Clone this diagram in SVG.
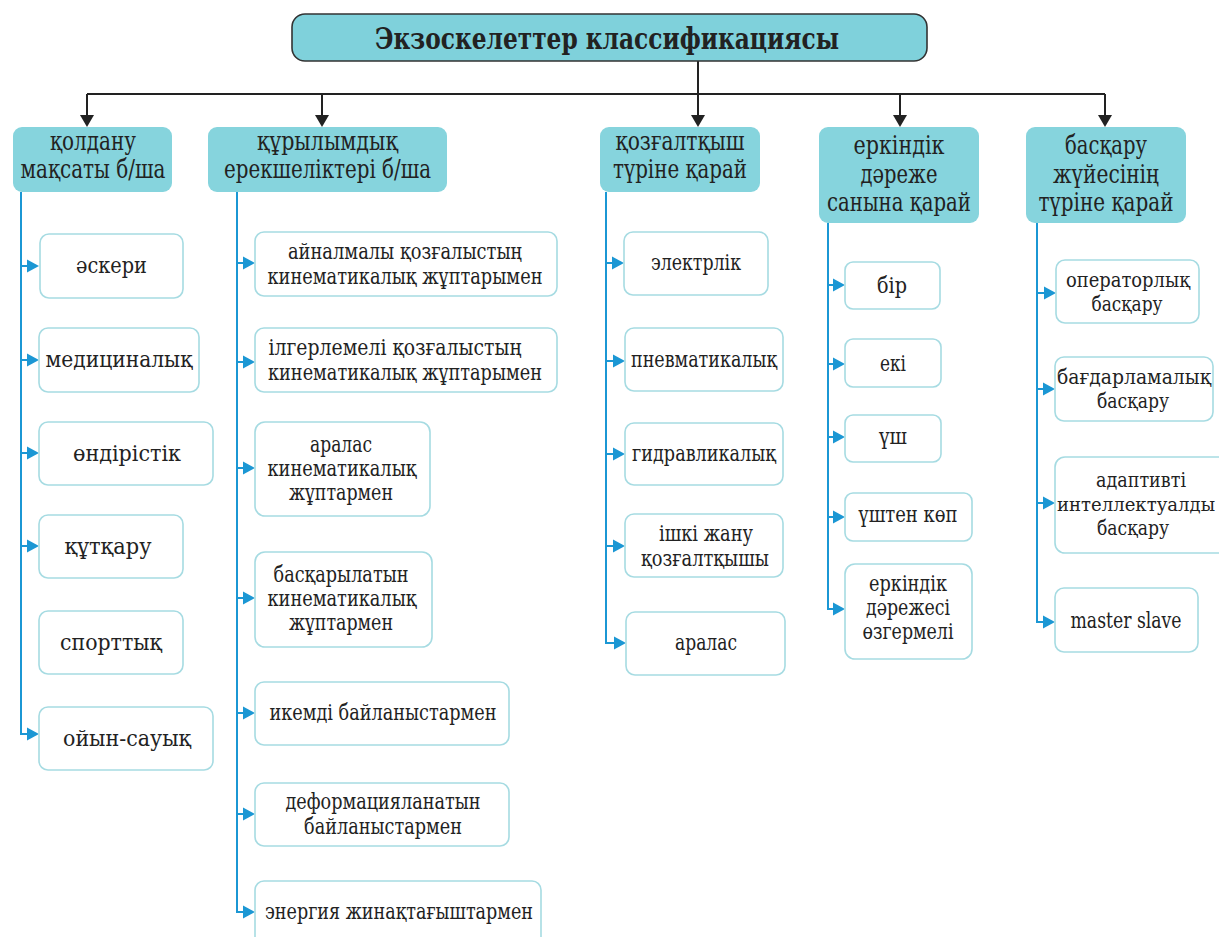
<svg xmlns="http://www.w3.org/2000/svg" width="1219" height="937" viewBox="0 0 1219 937">
<style>
.title{fill:#7fd1db;stroke:#333;stroke-width:1.6}
.hdr{fill:#86d4dd}
.box{fill:#fff;stroke:#a6dbe2;stroke-width:1.6}
text{font-family:"DejaVu Serif","Liberation Serif",serif;fill:#222;text-anchor:middle}
.tt{font-size:29px;font-weight:bold}
.ht{font-size:26px}
.bt{font-size:23px}
.bs{font-size:20px}
.blk{stroke:#222;stroke-width:2;fill:none}
.blu{stroke:#1b97d4;stroke-width:2;fill:none}
.ta{fill:#1b97d4}
.tb{fill:#222}
</style>
<defs>
<path id="arB" d="M-7,-12 L7,-12 L0,0 Z"/>
<path id="arC" d="M-12,-6.5 L0,0 L-12,6.5 Z"/>
</defs>
<rect width="1219" height="937" fill="#fff"/>

<g id="connectors">
<path class="blk" d="M698,61 V94"/>
<path class="blk" d="M87,94 H1105"/>
<path class="blk" d="M87,94 V116 M322,94 V116 M698,94 V116 M900,94 V116 M1105,94 V116"/>
<use href="#arB" class="tb" x="87" y="127"/>
<use href="#arB" class="tb" x="322" y="127"/>
<use href="#arB" class="tb" x="698" y="127"/>
<use href="#arB" class="tb" x="900" y="127"/>
<use href="#arB" class="tb" x="1105" y="127"/>

<path class="blu" d="M21,192 V734 H28 M20,266 H28 M20,360 H28 M20,453 H28 M20,546 H28"/>
<use href="#arC" class="ta" x="39" y="266"/>
<use href="#arC" class="ta" x="39" y="360"/>
<use href="#arC" class="ta" x="39" y="453"/>
<use href="#arC" class="ta" x="39" y="546"/>
<use href="#arC" class="ta" x="39" y="734"/>

<path class="blu" d="M237,192 V912 H244 M236,263 H244 M236,362 H244 M236,468 H244 M236,598 H244 M236,713 H244 M236,814 H244"/>
<use href="#arC" class="ta" x="255" y="263"/>
<use href="#arC" class="ta" x="255" y="362"/>
<use href="#arC" class="ta" x="255" y="468"/>
<use href="#arC" class="ta" x="255" y="598"/>
<use href="#arC" class="ta" x="255" y="713"/>
<use href="#arC" class="ta" x="255" y="814"/>
<use href="#arC" class="ta" x="255" y="912"/>

<path class="blu" d="M606,192 V643 H614 M605,263 H614 M605,361 H614 M605,454 H614 M605,546 H614"/>
<use href="#arC" class="ta" x="624" y="263"/>
<use href="#arC" class="ta" x="625" y="361"/>
<use href="#arC" class="ta" x="625" y="454"/>
<use href="#arC" class="ta" x="625" y="546"/>
<use href="#arC" class="ta" x="626" y="643"/>

<path class="blu" d="M828,223 V609 H835 M827,285 H835 M827,364 H835 M827,437 H835 M827,517 H835"/>
<use href="#arC" class="ta" x="845" y="285"/>
<use href="#arC" class="ta" x="845" y="364"/>
<use href="#arC" class="ta" x="845" y="437"/>
<use href="#arC" class="ta" x="845" y="517"/>
<use href="#arC" class="ta" x="845" y="609"/>

<path class="blu" d="M1037,223 V622 H1045 M1036,293 H1045 M1036,389 H1045 M1036,503 H1045"/>
<use href="#arC" class="ta" x="1056" y="293"/>
<use href="#arC" class="ta" x="1055" y="389"/>
<use href="#arC" class="ta" x="1055" y="503"/>
<use href="#arC" class="ta" x="1055" y="622"/>
</g>

<g id="title">
<rect class="title" x="292" y="14" width="635" height="47" rx="13"/>
<text class="tt" x="607" y="49" textLength="464" lengthAdjust="spacingAndGlyphs">Экзоскелеттер классификациясы</text>
</g>

<g id="h1"><rect class="hdr" x="13" y="127" width="159" height="65" rx="9"/>
<text class="ht" x="93" y="150" textLength="86" lengthAdjust="spacingAndGlyphs">қолдану</text><text class="ht" x="93" y="178" textLength="145" lengthAdjust="spacingAndGlyphs">мақсаты б/ша</text></g>
<g id="h2"><rect class="hdr" x="208" y="127" width="239" height="65" rx="9"/>
<text class="ht" x="327.5" y="150" textLength="141" lengthAdjust="spacingAndGlyphs">құрылымдық</text><text class="ht" x="327.5" y="178" textLength="207" lengthAdjust="spacingAndGlyphs">ерекшеліктері б/ша</text></g>
<g id="h3"><rect class="hdr" x="600" y="127" width="160" height="65" rx="9"/>
<text class="ht" x="680" y="150" textLength="129" lengthAdjust="spacingAndGlyphs">қозғалтқыш</text><text class="ht" x="680" y="178" textLength="134" lengthAdjust="spacingAndGlyphs">түріне қарай</text></g>
<g id="h4"><rect class="hdr" x="819" y="127" width="160" height="96" rx="9"/>
<text class="ht" x="899" y="154" textLength="91" lengthAdjust="spacingAndGlyphs">еркіндік</text><text class="ht" x="899" y="183" textLength="77" lengthAdjust="spacingAndGlyphs">дәреже</text><text class="ht" x="899" y="211" textLength="144" lengthAdjust="spacingAndGlyphs">санына қарай</text></g>
<g id="h5"><rect class="hdr" x="1026" y="127" width="160" height="96" rx="9"/>
<text class="ht" x="1106" y="154" textLength="82" lengthAdjust="spacingAndGlyphs">басқару</text><text class="ht" x="1106" y="183" textLength="106" lengthAdjust="spacingAndGlyphs">жүйесінің</text><text class="ht" x="1106" y="211" textLength="135" lengthAdjust="spacingAndGlyphs">түріне қарай</text></g>

<g id="c1n1"><rect class="box" x="40" y="234" width="143" height="64" rx="9"/><text class="bt" x="111.5" y="273" textLength="71" lengthAdjust="spacingAndGlyphs">әскери</text></g>
<g id="c1n2"><rect class="box" x="39" y="328" width="160" height="64" rx="9"/><text class="bt" x="119" y="367" textLength="147" lengthAdjust="spacingAndGlyphs">медициналық</text></g>
<g id="c1n3"><rect class="box" x="39" y="422" width="174" height="63" rx="9"/><text class="bt" x="127" y="461" textLength="108" lengthAdjust="spacingAndGlyphs">өндірістік</text></g>
<g id="c1n4"><rect class="box" x="39" y="515" width="144" height="63" rx="9"/><text class="bt" x="108" y="554" textLength="87" lengthAdjust="spacingAndGlyphs">құтқару</text></g>
<g id="c1n5"><rect class="box" x="39" y="611" width="144" height="63" rx="9"/><text class="bt" x="111" y="650" textLength="102" lengthAdjust="spacingAndGlyphs">спорттық</text></g>
<g id="c1n6"><rect class="box" x="39" y="707" width="174" height="63" rx="9"/><text class="bt" x="127" y="746" textLength="128" lengthAdjust="spacingAndGlyphs">ойын-сауық</text></g>

<g id="c2n1"><rect class="box" x="255" y="232" width="302" height="64" rx="9"/><text class="bt" x="405" y="259" textLength="234" lengthAdjust="spacingAndGlyphs">айналмалы қозғалыстың</text><text class="bt" x="405" y="284" textLength="275" lengthAdjust="spacingAndGlyphs">кинематикалық жұптарымен</text></g>
<g id="c2n2"><rect class="box" x="255" y="328" width="302" height="64" rx="9"/><text class="bt" x="395" y="355" textLength="253" lengthAdjust="spacingAndGlyphs">ілгерлемелі қозғалыстың</text><text class="bt" x="405" y="380" textLength="274" lengthAdjust="spacingAndGlyphs">кинематикалық жұптарымен</text></g>
<g id="c2n3"><rect class="box" x="255" y="422" width="175" height="94" rx="10"/><text class="bt" x="341" y="452" textLength="62" lengthAdjust="spacingAndGlyphs">аралас</text><text class="bt" x="342" y="476" textLength="149" lengthAdjust="spacingAndGlyphs">кинематикалық</text><text class="bt" x="341" y="500" textLength="104" lengthAdjust="spacingAndGlyphs">жұптармен</text></g>
<g id="c2n4"><rect class="box" x="255" y="552" width="177" height="95" rx="10"/><text class="bt" x="341" y="582" textLength="135" lengthAdjust="spacingAndGlyphs">басқарылатын</text><text class="bt" x="342" y="606" textLength="149" lengthAdjust="spacingAndGlyphs">кинематикалық</text><text class="bt" x="341" y="630" textLength="104" lengthAdjust="spacingAndGlyphs">жұптармен</text></g>
<g id="c2n5"><rect class="box" x="255" y="682" width="254" height="63" rx="9"/><text class="bt" x="383" y="720" textLength="227" lengthAdjust="spacingAndGlyphs">икемді байланыстармен</text></g>
<g id="c2n6"><rect class="box" x="255" y="783" width="254" height="63" rx="9"/><text class="bt" x="383" y="809" textLength="195" lengthAdjust="spacingAndGlyphs">деформацияланатын</text><text class="bt" x="383" y="834" textLength="158" lengthAdjust="spacingAndGlyphs">байланыстармен</text></g>
<g id="c2n7"><rect class="box" x="255" y="881" width="286" height="80" rx="9"/><text class="bt" x="399" y="919" textLength="268" lengthAdjust="spacingAndGlyphs">энергия жинақтағыштармен</text></g>

<g id="c3n1"><rect class="box" x="624" y="232" width="144" height="63" rx="9"/><text class="bt" x="696" y="270" textLength="90" lengthAdjust="spacingAndGlyphs">электрлік</text></g>
<g id="c3n2"><rect class="box" x="625" y="328" width="158" height="63" rx="9"/><text class="bt" x="704" y="367" textLength="146" lengthAdjust="spacingAndGlyphs">пневматикалық</text></g>
<g id="c3n3"><rect class="box" x="625" y="423" width="158" height="62" rx="9"/><text class="bt" x="704" y="461" textLength="144" lengthAdjust="spacingAndGlyphs">гидравликалық</text></g>
<g id="c3n4"><rect class="box" x="625" y="514" width="158" height="63" rx="9"/><text class="bt" x="706" y="541" textLength="94" lengthAdjust="spacingAndGlyphs">ішкі жану</text><text class="bt" x="705" y="566" textLength="128" lengthAdjust="spacingAndGlyphs">қозғалтқышы</text></g>
<g id="c3n5"><rect class="box" x="626" y="612" width="159" height="63" rx="9"/><text class="bt" x="706" y="650" textLength="62" lengthAdjust="spacingAndGlyphs">аралас</text></g>

<g id="c4n1"><rect class="box" x="845" y="262" width="95" height="47" rx="8"/><text class="bt" x="892" y="293" textLength="30" lengthAdjust="spacingAndGlyphs">бір</text></g>
<g id="c4n2"><rect class="box" x="845" y="339" width="96" height="48" rx="8"/><text class="bt" x="893" y="371" textLength="26" lengthAdjust="spacingAndGlyphs">екі</text></g>
<g id="c4n3"><rect class="box" x="845" y="415" width="96" height="47" rx="8"/><text class="bt" x="893" y="444" textLength="28" lengthAdjust="spacingAndGlyphs">үш</text></g>
<g id="c4n4"><rect class="box" x="845" y="493" width="127" height="48" rx="8"/><text class="bt" x="908" y="522" textLength="99" lengthAdjust="spacingAndGlyphs">үштен көп</text></g>
<g id="c4n5"><rect class="box" x="845" y="564" width="127" height="95" rx="10"/><text class="bt" x="908" y="591" textLength="78" lengthAdjust="spacingAndGlyphs">еркіндік</text><text class="bt" x="908" y="615" textLength="84" lengthAdjust="spacingAndGlyphs">дәрежесі</text><text class="bt" x="908" y="639" textLength="91" lengthAdjust="spacingAndGlyphs">өзгермелі</text></g>

<g id="c5n1"><rect class="box" x="1056" y="260" width="143" height="63" rx="9"/><text class="bs" x="1128" y="287" textLength="124" lengthAdjust="spacingAndGlyphs">операторлық</text><text class="bs" x="1127" y="311" textLength="71" lengthAdjust="spacingAndGlyphs">басқару</text></g>
<g id="c5n2"><rect class="box" x="1055" y="357" width="158" height="64" rx="9"/><text class="bs" x="1134" y="384" textLength="154" lengthAdjust="spacingAndGlyphs">бағдарламалық</text><text class="bs" x="1133" y="408" textLength="72" lengthAdjust="spacingAndGlyphs">басқару</text></g>
<g id="c5n3"><rect class="box" x="1055" y="457" width="175" height="96" rx="10"/><text class="bs" x="1141" y="487" textLength="90" lengthAdjust="spacingAndGlyphs">адаптивті</text><text class="bs" x="1136" y="511" textLength="158" lengthAdjust="spacingAndGlyphs" style="font-size:18px">интеллектуалды</text><text class="bs" x="1133" y="535" textLength="72" lengthAdjust="spacingAndGlyphs">басқару</text></g>
<g id="c5n4"><rect class="box" x="1055" y="588" width="143" height="64" rx="9"/><text class="bt" x="1126" y="628" textLength="111" lengthAdjust="spacingAndGlyphs">master slave</text></g>
</svg>
